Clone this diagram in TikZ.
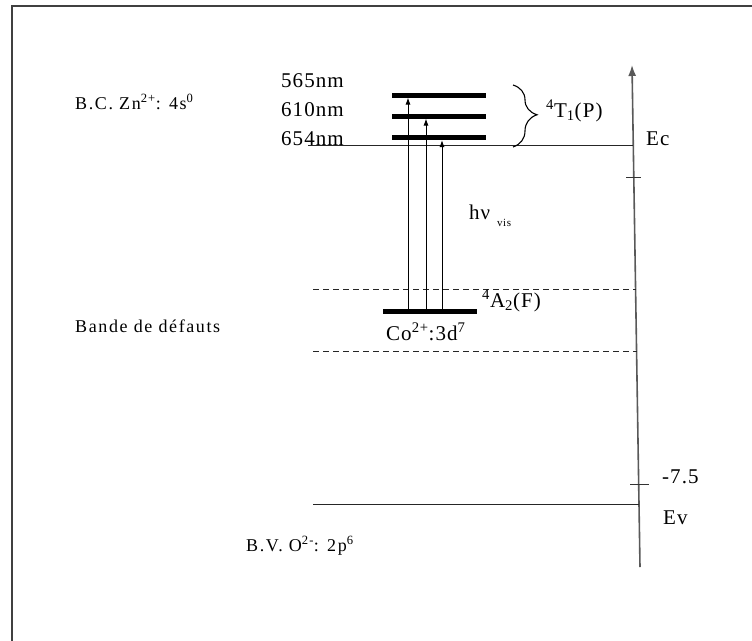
\documentclass[tikz,border=0pt]{standalone}
\usepackage{fontspec}
\setmainfont{Liberation Serif}
\newfontfamily\bigf[LetterSpace=5]{Liberation Serif}
\newfontfamily\smallf[LetterSpace=9]{Liberation Serif}
\usetikzlibrary{arrows.meta,decorations.pathreplacing}
\begin{document}
\begin{tikzpicture}[x=1pt,y=-1pt,
  lbl/.style={anchor=base west,inner sep=0pt,font=\bigf\fontsize{21}{24}\selectfont},
  slbl/.style={anchor=base west,inner sep=0pt,font=\smallf\fontsize{18}{20}\selectfont},
  bandline/.style={line width=1pt,black!85},
  dashline/.style={line width=1pt,dash pattern=on 6pt off 4pt,black!85},
  lvl/.style={line width=5pt},
  exc/.style={line width=1pt,-{Latex[length=7pt,width=5pt]}},
  axisline/.style={line width=1.6pt,black!65,-{Latex[length=11pt,width=8pt]}},
  tickline/.style={line width=1pt,black!80},
  framel/.style={line width=2pt,black!75}]
\useasboundingbox (0,0) rectangle (752,640);
% frame
\coordinate (f0) at (11.5,650);
\coordinate (f1) at (11.5,5.5);
\coordinate (f2) at (760,5.5);
\draw[framel] (f0) -- (f1) -- (f2);
% energy axis
\coordinate (ax0) at (640,567);
\coordinate (ax1) at (632,65);
\draw[axisline] (ax0) -- (ax1);
% conduction band edge
\coordinate (ec0) at (308,145);
\coordinate (ec1) at (633.3,145);
\draw[bandline] (ec0) -- (ec1);
% valence band edge
\coordinate (ev0) at (313,504);
\coordinate (ev1) at (639.2,504);
\draw[bandline] (ev0) -- (ev1);
% ticks
\coordinate (t1a) at (626,177); \coordinate (t1b) at (641,177);
\draw[tickline] (t1a) -- (t1b);
\coordinate (t2a) at (630,484); \coordinate (t2b) at (649,484);
\draw[tickline] (t2a) -- (t2b);
% defect band
\coordinate (d1a) at (313,289); \coordinate (d1b) at (635.6,289);
\coordinate (d2a) at (313,351); \coordinate (d2b) at (636.6,351);
\draw[dashline] (d1a) -- (d1b);
\draw[dashline] (d2a) -- (d2b);
% excited levels
\coordinate (l1a) at (392,95);  \coordinate (l1b) at (486,95);
\coordinate (l2a) at (392,116); \coordinate (l2b) at (486,116);
\coordinate (l3a) at (392,137); \coordinate (l3b) at (486,137);
\draw[lvl] (l1a) -- (l1b);
\draw[lvl] (l2a) -- (l2b);
\draw[lvl] (l3a) -- (l3b);
% Co ground level
\coordinate (coa) at (383,311); \coordinate (cob) at (477,311);
\draw[lvl] (coa) -- (cob);
% transitions
\coordinate (s1) at (408,309); \coordinate (e1) at (408,97.5);
\coordinate (s2) at (426,309); \coordinate (e2) at (426,118.5);
\coordinate (s3) at (442,309); \coordinate (e3) at (442,140);
\draw[exc] (s1) -- (e1);
\draw[exc] (s2) -- (e2);
\draw[exc] (s3) -- (e3);
% brace
\coordinate (br0) at (513,85);
\coordinate (br1) at (513,147);
\draw[line width=1.1pt,decorate,decoration={brace,amplitude=24pt,aspect=0.48}] (br0) -- (br1);
% labels
\node[lbl] (n565) at (281,87) {565nm};
\node[lbl] (n610) at (281,116) {610nm};
\node[lbl] (n654) at (281,145) {654nm};
\node[lbl] (t1p) at (546,117) {\textsuperscript{4}T\textsubscript{1}(P)};
\node[lbl] (ec) at (646,145) {Ec};
\node[slbl] (bc) at (75,109) {B.C. Zn\textsuperscript{2+}: 4s\textsuperscript{0}};
\node[lbl] (hv) at (469,219) {hν};
\node[anchor=base west,inner sep=0pt,font=\bigf\fontsize{11}{12}\selectfont] (vis) at (497,226) {vis};
\node[lbl] (a2f) at (482,307) {\textsuperscript{4}A\textsubscript{2}(F)};
\node[lbl] (co) at (386,340) {Co\textsuperscript{2+}:3d\textsuperscript{7}};
\node[slbl] (bd) at (75,332) {Bande de défauts};
\node[lbl] (m75) at (662,483) {-7.5};
\node[lbl] (ev) at (663,524) {Ev};
\node[slbl] (bv) at (246,551) {B.V. O\textsuperscript{2-}: 2p\textsuperscript{6}};
\end{tikzpicture}
\end{document}
